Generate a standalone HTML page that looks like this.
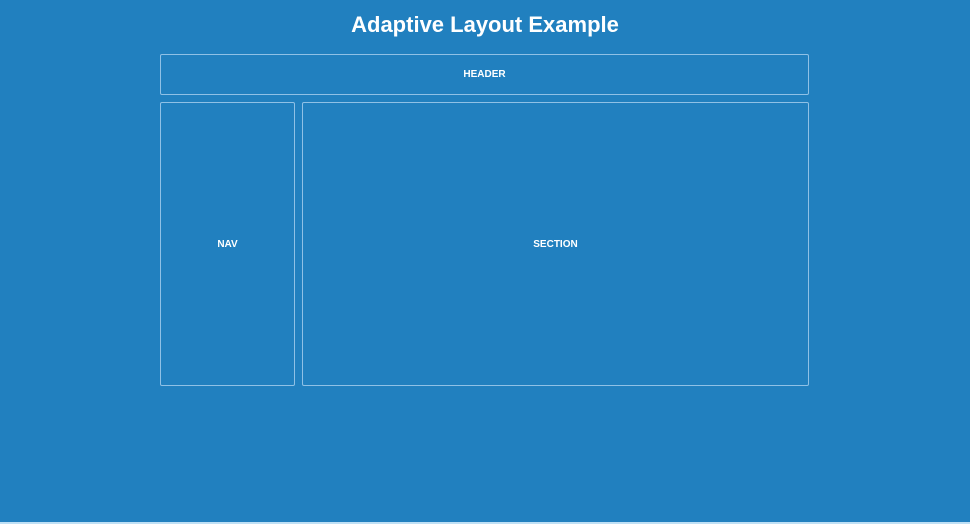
<!DOCTYPE html>
<html><head><meta charset="utf-8"><style>
html,body{margin:0;padding:0}
body{width:970px;height:524px;background:#2180bf;position:relative;overflow:hidden;font-family:"Liberation Sans",sans-serif;color:#fff}
.t{position:absolute;left:0;width:970px;top:12px;text-align:center;font-size:22px;font-weight:bold}
.b{position:absolute;border:1.5px solid #8fc1e6;border-radius:2px;box-sizing:border-box;display:flex;align-items:center;justify-content:center;font-size:10px;font-weight:600}
.bot{position:absolute;left:0;bottom:0;width:970px;height:2px;background:#bfe0f5}
</style></head><body>
<div class="t">Adaptive Layout Example</div>
<div class="b" style="left:160px;top:54px;width:649px;height:41px">HEADER</div>
<div class="b" style="left:160px;top:102px;width:135px;height:284px">NAV</div>
<div class="b" style="left:302px;top:102px;width:507px;height:284px">SECTION</div>
<div class="bot"></div>
</body></html>
